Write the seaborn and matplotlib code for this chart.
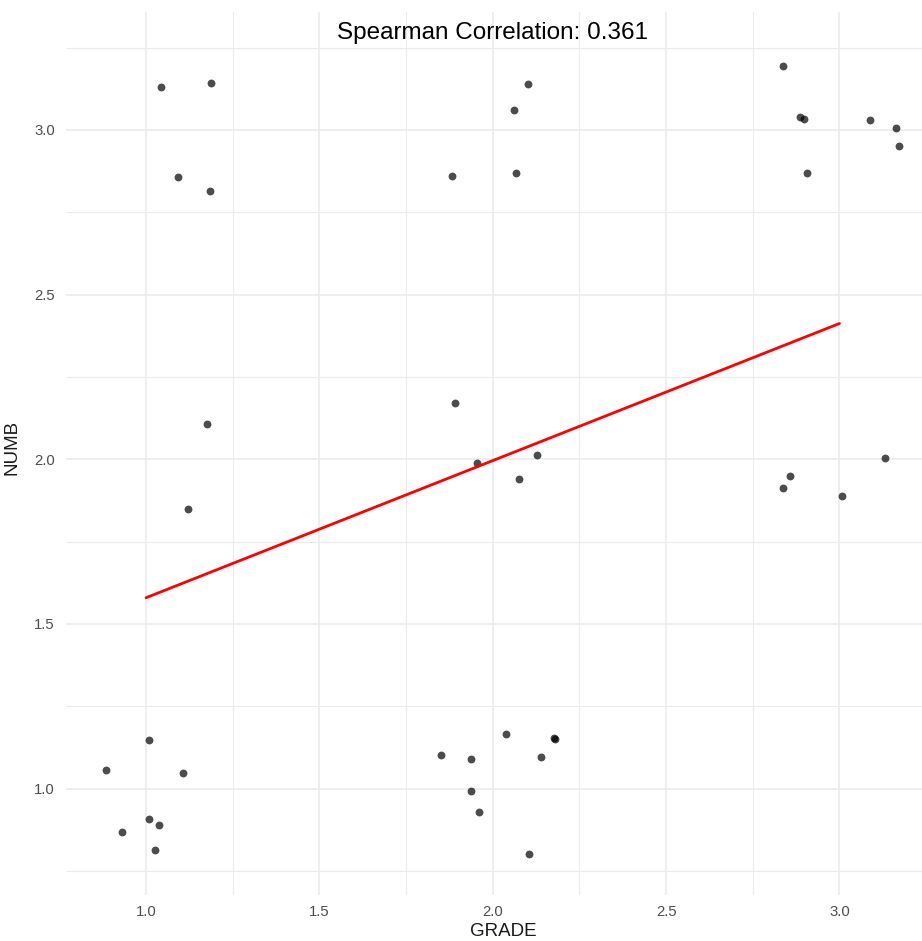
import numpy as np
import pandas as pd
import matplotlib
matplotlib.use("Agg")
import matplotlib.pyplot as plt
import seaborn as sns

# Jittered positions
grade = [1.042, 1.188, 1.091, 1.185, 1.177, 1.121, 1.009, 0.884, 1.106, 1.009, 1.038, 0.930, 1.026,
         1.883, 2.101, 2.060, 2.068, 1.891, 1.954, 2.076, 2.128, 1.850, 2.038, 2.176, 2.180, 2.139,
         1.936, 1.936, 1.959, 2.105,
         2.838, 2.887, 2.899, 3.087, 3.162, 3.172, 2.906, 2.838, 2.857, 3.008, 3.131]
numb = [3.130, 3.142, 2.857, 2.814, 2.106, 1.849, 1.147, 1.056, 1.047, 0.909, 0.889, 0.869, 0.814,
        2.861, 3.138, 3.059, 2.869, 2.170, 1.988, 1.940, 2.012, 1.103, 1.166, 1.155, 1.152, 1.095,
        1.091, 0.992, 0.929, 0.802,
        3.193, 3.039, 3.034, 3.031, 3.007, 2.952, 2.869, 1.913, 1.948, 1.889, 2.004]
title_text = "Spearman Correlation: 0.361"

df = pd.DataFrame({"GRADE": grade, "NUMB": numb})
df["GRADE_raw"] = df["GRADE"].round()
df["NUMB_raw"] = df["NUMB"].round()

sns.set_theme(style="whitegrid")
plt.rcParams["font.family"] = ["Liberation Sans", "DejaVu Sans"]

W, H = 922, 941
fig = plt.figure(figsize=(W / 100, H / 100), dpi=100)
left, right, top, bottom = 66, 922, 12, 895
ax = fig.add_axes([left / W, 1 - bottom / H, (right - left) / W, (bottom - top) / H])

sns.scatterplot(data=df, x="GRADE", y="NUMB", ax=ax, color="black", alpha=0.7,
                s=32, linewidth=0, zorder=3)
sns.regplot(data=df, x="GRADE_raw", y="NUMB_raw", ax=ax, scatter=False, ci=None,
            color="red", line_kws={"linewidth": 2, "zorder": 4}, truncate=True)

ax.set_xlim(0.769, 3.238)
ax.set_ylim(0.677, 3.358)

ax.set_xticks([1.0, 1.5, 2.0, 2.5, 3.0])
ax.set_yticks([1.0, 1.5, 2.0, 2.5, 3.0])
ax.set_xticks([1.25, 1.75, 2.25, 2.75], minor=True)
ax.set_yticks([0.75, 1.25, 1.75, 2.25, 2.75, 3.25], minor=True)
ax.set_xticklabels(["1.0", "1.5", "2.0", "2.5", "3.0"])
ax.set_yticklabels(["1.0", "1.5", "2.0", "2.5", "3.0"])

ax.set_facecolor("white")
for s in ax.spines.values():
    s.set_visible(False)
ax.grid(True, which="major", color="#EBEBEB", linewidth=1.2)
ax.grid(True, which="minor", color="#EBEBEB", linewidth=0.8)
ax.tick_params(axis="both", which="both", length=0, labelsize=10.7, labelcolor="#4D4D4D")
ax.tick_params(axis="x", pad=7)
ax.tick_params(axis="y", pad=8)

ax.set_xlabel("GRADE", fontsize=13.5, color="#1A1A1A")
ax.set_ylabel("NUMB", fontsize=13.5, color="#1A1A1A")
ax.xaxis.set_label_coords((503 - left) / (right - left), -(923 - bottom) / (bottom - top))
ax.yaxis.set_label_coords(-(left - 20) / (right - left), (bottom - 447) / (bottom - top))

ax.text(2.0, 3.295, title_text, ha="center", va="center", fontsize=17.5, color="black", zorder=5)

fig.savefig("out.png", dpi=100, facecolor="white")
